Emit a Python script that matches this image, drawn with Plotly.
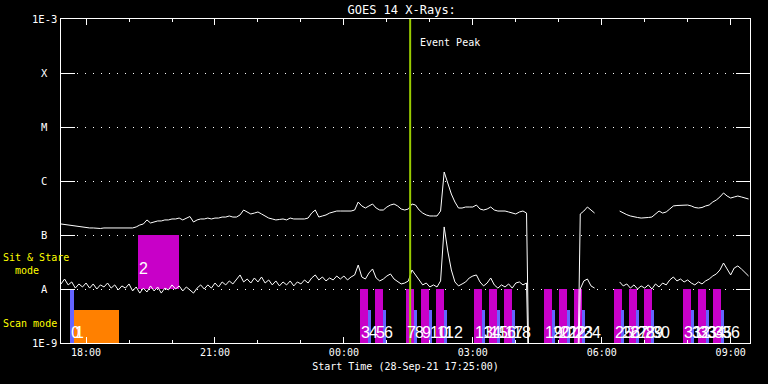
import datetime as dt
import plotly.graph_objects as go

START = dt.datetime(2021, 9, 28, 17, 25, 0)
END_MIN = 962            # minutes shown after the start time
CADENCE_MIN = 5          # sampling cadence of the flux series
EVENT_PEAK_MIN = 487.5   # event peak, minutes after start

# GOES 14 long channel (1-8 A), units of 1e-8 W/m^2, one value per 5 min from start
long_e8 = [
    16.0, 15.6, 15.3, 15.0, 14.7, 14.1, 14.1, 13.8, 13.5, 13.5,
    13.2, 13.2, 13.5, 13.5, 13.5, 13.5, 13.5, 13.5, 13.5, 13.5,
    13.5, 14.1, 15.3, 16.0, 19.0, 16.7, 17.4, 18.2, 18.2, 19.0,
    19.0, 19.8, 19.8, 20.6, 19.0, 20.6, 22.0, 17.4, 19.0, 19.8,
    19.8, 20.6, 19.8, 20.6, 20.6, 21.5, 21.5, 22.5, 21.5, 21.5,
    23.5, 29.0, 26.7, 24.5, 25.5, 26.7, 24.5, 22.5, 20.6, 19.8,
    19.0, 19.4, 19.8, 19.0, 20.6, 19.8, 19.8, 19.8, 19.8, 20.6,
    25.5, 29.0, 21.5, 22.5, 23.5, 25.5, 26.7, 27.8, 27.8, 27.8,
    27.8, 27.8, 29.0, 40.8, 34.5, 31.6, 34.5, 37.5, 31.6, 29.0,
    29.0, 33.0, 35.9, 37.5, 34.5, 30.3, 29.0, 30.3, 37.5, 35.9,
    29.0, 25.5, 23.5, 22.5, 22.5, 22.5, 27.8, 146.8, 91.8, 57.4,
    40.8, 31.6, 31.6, 33.0, 33.0, 33.0, 35.9, 30.3, 29.0, 30.3,
    33.0, 29.0, 27.8, 27.8, 27.8, 26.7, 25.5, 24.5, 26.7, 27.8,
    25.5, 0.001,
    None, None, None, None, None, None, None, None, None, None, None, None,
    0.001, 24.5, 27.8, 33.0, 29.0, 25.5,
    None, None, None, None, None, None,
    27.8, 25.5, 23.8, 22.5, 21.5, 21.1, 20.6, 20.6, 21.1, 21.5,
    24.5, 27.8, 25.5, 26.7, 30.3, 34.5, 35.2, 35.2, 35.2, 35.9,
    34.5, 32.3, 31.6, 32.3, 34.5, 35.9, 40.8, 44.5, 50.6, 60.0,
    52.7, 48.4, 50.6, 52.7, 50.6, 48.4, 46.4,
]

# GOES 14 short channel (0.5-4 A), units of 1e-8 W/m^2
short_e8 = [
    1.24, 1.53, 1.19, 1.35, 1.04, 1.24, 1.09, 1.29, 1.04, 1.24,
    1.00, 1.19, 1.09, 1.29, 1.04, 1.19, 0.96, 1.14, 1.04, 1.24,
    0.92, 1.09, 0.84, 1.04, 0.88, 1.14, 0.92, 1.09, 0.84, 1.04,
    0.96, 1.19, 1.00, 1.14, 0.92, 1.09, 0.96, 0.84, 1.04, 1.19,
    1.00, 1.19, 1.04, 1.29, 1.09, 1.35, 1.19, 1.41, 1.24, 1.47,
    1.82, 1.35, 1.53, 1.29, 1.60, 1.35, 1.67, 1.29, 1.47, 1.19,
    1.41, 1.14, 1.35, 1.19, 1.41, 1.14, 1.35, 1.24, 1.47, 1.29,
    1.60, 1.82, 1.47, 1.67, 1.41, 1.60, 1.47, 1.74, 1.53, 1.74,
    1.47, 1.67, 1.82, 2.78, 1.67, 1.53, 1.98, 2.35, 1.60, 1.41,
    1.53, 1.74, 1.90, 1.53, 1.35, 1.24, 1.29, 1.41, 2.25, 1.82,
    1.47, 1.19, 1.29, 1.09, 1.19, 1.09, 1.41, 14.1, 5.06, 2.25,
    1.35, 1.14, 1.24, 1.35, 1.60, 1.74, 1.82, 1.35, 1.14, 1.29,
    1.60, 1.19, 1.04, 1.19, 1.09, 1.24, 1.04, 1.29, 1.35, 1.19,
    1.29, 0.001,
    None, None, None, None, None, None, None, None, None, None, None, None,
    0.001, 1.00, 1.41, 1.53, 1.14, 1.04,
    None, None, None, None, None, None,
    1.35, 1.14, 1.24, 1.04, 1.19, 1.00, 1.14, 1.04, 1.19, 1.00,
    1.24, 1.09, 1.29, 1.19, 1.47, 1.67, 1.41, 1.53, 1.35, 1.47,
    1.29, 1.19, 1.35, 1.24, 1.41, 1.53, 1.74, 1.90, 2.25, 3.03,
    2.35, 1.82, 2.45, 2.67, 2.35, 1.98, 1.74,
]

# IRIS-style observations: start / end (minutes after start) and kind
obs_start_min = [12.0, 17.6, 108.2,
                 417.6, 428.8, 438.6, 449.7, 481.9, 493.1, 502.8, 513.9, 523.7, 534.9,
                 576.7, 587.9, 597.6, 608.8, 618.6, 629.7, 674.3, 685.4, 695.2, 706.4,
                 716.1, 727.3, 771.9, 781.7, 792.8, 802.6, 813.7, 823.5, 868.1, 879.3,
                 889.0, 900.2, 910.0, 921.1]
obs_end_min = [17.6, 80.3, 165.4,
               428.8, 433.0, 449.7, 453.9, 493.1, 497.2, 513.9, 518.1, 534.9, 539.1,
               587.9, 592.0, 608.8, 613.0, 629.7, 633.9, 685.4, 689.6, 706.4, 710.5,
               727.3, 731.5, 783.1, 785.9, 804.0, 806.8, 824.9, 827.7, 879.3, 883.4,
               900.2, 904.4, 921.1, 925.3]
obs_kind = ["cal", "scan", "sit",
            "raster", "short", "raster", "short", "raster", "short", "raster", "short",
            "raster", "short", "raster", "short", "raster", "short", "raster", "short",
            "raster", "short", "raster", "short", "raster", "short", "raster", "short",
            "raster", "short", "raster", "short", "raster", "short", "raster", "short",
            "raster", "short"]
obs_labels = [str(i) for i in range(len(obs_kind))]

# GOES class levels (log10 W/m^2) and their names
level_vals = [-9, -8, -7, -6, -5, -4, -3]
level_names = ["1E-9", "A", "B", "C", "M", "X", "1E-3"]

# ---- styles ----
BLUE, ORANGE, MAGENTA = "#6464ff", "#ff8000", "#c800c8"
GREEN = "#99cc00"
YELLOW = "#ffff00"
MONO = "DejaVu Sans Mono"
NUMFONT = "Liberation Sans Narrow, Liberation Sans, Arial"
kind_style = {               # colour, bottom, top  (log10 units)
    "cal":    (BLUE, -9.0, -8.0),
    "scan":   (ORANGE, -9.0, -8.39),
    "sit":    (MAGENTA, -8.0, -7.0),
    "raster": (MAGENTA, -9.0, -8.0),
    "short":  (BLUE, -9.0, -8.39),
}
label_shift = {"sit": 10}

def t(m):
    return START + dt.timedelta(minutes=m)

times = [t(CADENCE_MIN * i) for i in range(len(long_e8))]
long_flux = [None if v is None else v * 1e-8 for v in long_e8]
short_flux = [None if v is None else v * 1e-8 for v in short_e8]

fig = go.Figure()

# observation bars (on the linear log10 axis "y")
for kind in ["cal", "scan", "sit", "raster", "short"]:
    idx = [i for i, k in enumerate(obs_kind) if k == kind]
    col, b, top = kind_style[kind]
    fig.add_trace(go.Bar(
        x=[t((obs_start_min[i] + obs_end_min[i]) / 2) for i in idx],
        width=[(obs_end_min[i] - obs_start_min[i]) * 60000 for i in idx],
        base=[b] * len(idx), y=[top - b] * len(idx),
        marker=dict(color=col, line=dict(width=0)), yaxis="y",
        hoverinfo="skip"))

# flux curves (log axis "y2" overlaying)
fig.add_trace(go.Scatter(x=times, y=long_flux, mode="lines", yaxis="y2",
                         line=dict(color="white", width=1), connectgaps=False))
fig.add_trace(go.Scatter(x=times, y=short_flux, mode="lines", yaxis="y2",
                         line=dict(color="white", width=1), connectgaps=False))
fig.add_trace(go.Scatter(x=[t(EVENT_PEAK_MIN)] * 2, y=[1e-9, 1e-3], mode="lines",
                         yaxis="y2", line=dict(color=GREEN, width=2)))

ann = []
# observation numbers
for i, k in enumerate(obs_kind):
    col, b, top = kind_style[k]
    ann.append(dict(x=t(obs_start_min[i]), y=b, xref="x", yref="y", text=obs_labels[i],
                    showarrow=False, xanchor="left", yanchor="bottom",
                    yshift=label_shift.get(k, 0), xshift=-1,
                    font=dict(family=NUMFONT, size=16, color="white")))

PLOT_L, PLOT_R = 61, 750
W = PLOT_R - PLOT_L
def px_to_paper(px):
    return (px - PLOT_L) / W

for v, name in zip(level_vals, level_names):
    ann.append(dict(x=px_to_paper(44), y=v, xref="paper", yref="y", text=name,
                    showarrow=False, xanchor="center", yanchor="middle",
                    font=dict(family=MONO, size=10.5, color="white")))

ann.append(dict(x=px_to_paper(1), y=-7.54, xref="paper", yref="y",
                text="Sit & Stare<br>\u00a0\u00a0mode", showarrow=False,
                xanchor="left", yanchor="middle", align="left",
                font=dict(family=MONO, size=10, color=YELLOW)))
ann.append(dict(x=px_to_paper(1), y=-8.63, xref="paper", yref="y",
                text="Scan mode", showarrow=False, xanchor="left", yanchor="middle",
                font=dict(family=MONO, size=10, color=YELLOW)))
ann.append(dict(x=t(EVENT_PEAK_MIN), y=0.926, xref="x", yref="paper",
                text="Event Peak", showarrow=False, xanchor="left", yanchor="middle",
                xshift=8, font=dict(family=MONO, size=10, color="white")))

fig.update_layout(
    width=768, height=384,
    margin=dict(l=PLOT_L, r=768 - PLOT_R, t=19, b=41),
    paper_bgcolor="black", plot_bgcolor="black",
    showlegend=False, hovermode=False, barmode="overlay", bargap=0,
    title=dict(text="GOES 14 X-Rays:", x=0.523, xanchor="center", y=0.975,
               yanchor="middle", font=dict(family=MONO, size=12, color="white")),
    annotations=ann,
    xaxis=dict(
        type="date", range=[START, t(END_MIN)],
        showline=True, linecolor="white", linewidth=1, mirror="ticks",
        ticks="inside", ticklen=6, tickcolor="white", tickwidth=1,
        tick0="2021-09-28 18:00", dtick=3 * 3600000, tickformat="%H:%M",
        tickfont=dict(family=MONO, size=10, color="white"),
        minor=dict(dtick=3600000, tick0="2021-09-28 18:00", ticks="inside",
                   ticklen=3, tickcolor="white", showgrid=False),
        showgrid=False, zeroline=False,
        title=dict(text="Start Time (28-Sep-21 17:25:00)", standoff=5,
                   font=dict(family=MONO, size=10, color="white")),
    ),
    yaxis=dict(
        range=[-9, -3], showline=True, linecolor="white", linewidth=1, mirror="ticks",
        ticks="inside", ticklen=14, tickcolor="white", tickvals=level_vals,
        showticklabels=False, showgrid=True, gridcolor="white", gridwidth=1,
        griddash="1px,7px", zeroline=False, fixedrange=True,
    ),
    yaxis2=dict(type="log", range=[-9, -3], overlaying="y", visible=False),
)

fig.write_html("out.html", config={"displayModeBar": False},
               post_script="document.body.style.margin='0px';")
